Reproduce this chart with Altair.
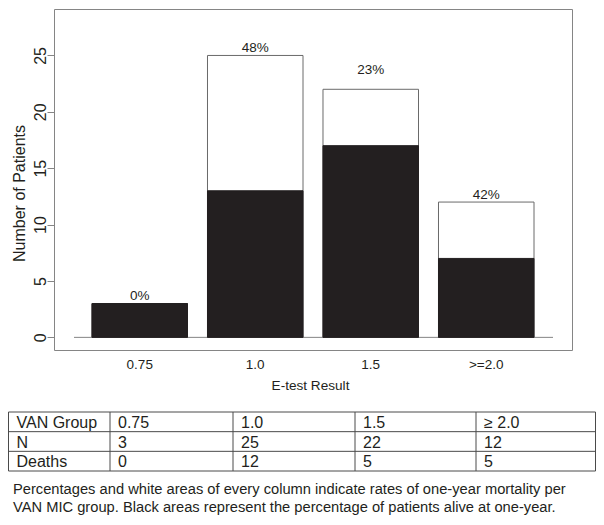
import altair as alt
import pandas as pd

# ---- data ----
groups = ["0.75", "1.0", "1.5", ">=2.0"]
n_patients = [3, 25, 22, 12]
deaths = [0, 12, 5, 5]
pct_labels = ["0%", "48%", "23%", "42%"]
label_y = [3, 25, 23.1, 12]
y_ticks = [0, 5, 10, 15, 20, 25]

table_header = ["VAN Group", "0.75", "1.0", "1.5", "\u2265 2.0"]
table_n = ["N", "3", "25", "22", "12"]
table_deaths = ["Deaths", "0", "12", "5", "5"]
caption_lines = [
    "Percentages and white areas of every column indicate rates of one-year mortality per",
    "VAN MIC group. Black areas represent the percentage of patients alive at one-year.",
]

FONT = "Liberation Sans"
TXT = "#231f20"
BLACK = "#231f20"
GREY = "#858585"

bars_df = pd.DataFrame({
    "group": groups,
    "n": n_patients,
    "deaths": deaths,
    "pct": pct_labels,
    "label_y": label_y,
})

xband = alt.Scale(domain=groups, paddingInner=0.173, paddingOuter=0.329)
yscale = alt.Scale(domain=[-1.12, 29.12], nice=False, zero=False)

x_axis = alt.Axis(
    title="E-test Result", ticks=False, tickSize=0, domain=False, grid=False,
    labelAngle=0, labelFontSize=13.5, labelPadding=18, labelBaseline="alphabetic",
    labelColor=TXT, titleFontSize=13.6, titleFontWeight="normal", titleColor=TXT,
    titleX=256, titleY=39.7, titleBaseline="alphabetic", titleAlign="center",
)
y_axis = alt.Axis(
    title="Number of Patients", values=y_ticks, grid=False, domain=False,
    tickColor=GREY, tickSize=7, labelAngle=270, labelAlign="center",
    labelBaseline="alphabetic", labelPadding=1.5, labelFontSize=16, labelColor=TXT,
    labelFlush=False, labelOverlap=False,
    titleFontSize=16, titleFontWeight="normal", titleColor=TXT, titleAngle=270,
    titleX=-30, titleY=184, titleBaseline="alphabetic", titleAlign="center",
)

base = alt.Chart(bars_df)

baseline = base.mark_rule(color=GREY, strokeWidth=1).encode(
    y=alt.datum(0, scale=yscale), x=alt.value(20), x2=alt.value(499)
).transform_filter("datum.group == '0.75'")

white_bars = base.mark_bar(fill="white", stroke="#6a6a6a", strokeWidth=1).encode(
    x=alt.X("group:N", scale=xband, axis=x_axis),
    y=alt.Y("n:Q", scale=yscale, axis=y_axis),
    y2=alt.datum(0),
)
black_bars = base.transform_calculate(alive="datum.n - datum.deaths").mark_bar(
    fill=BLACK, stroke=BLACK, strokeWidth=1
).encode(
    x=alt.X("group:N"),
    y=alt.Y("alive:Q"),
    y2=alt.datum(0),
)
pct_text = base.mark_text(
    dy=-3.3, baseline="alphabetic", fontSize=13.5, color=TXT, font=FONT
).encode(
    x=alt.X("group:N"),
    y=alt.Y("label_y:Q"),
    text="pct:N",
)

bar_group = alt.layer(baseline, white_bars, black_bars, pct_text)

# ---- table ----
rows = [table_header, table_n, table_deaths]
cells = []
for r, row in enumerate(rows):
    for c, val in enumerate(row):
        cells.append({"row": r, "col": c, "text": val})
cells_df = pd.DataFrame(cells)
ncol = len(table_header)
nrow = len(rows)
hlines_df = pd.DataFrame({"r": list(range(nrow + 1)), "c0": 0, "c1": ncol})
vlines_df = pd.DataFrame({"c": list(range(ncol + 1)), "r0": 0, "r1": nrow})

tx = alt.Scale(domain=[0, 1, 2, 3, 4, 5], range=[-45.5, 56, 179, 301, 422, 541.5])
ty = alt.Scale(domain=[0, 3], range=[403, 462])
LINE = "#4a4a4a"

hlines = alt.Chart(hlines_df).mark_rule(color=LINE, strokeWidth=1).encode(
    x=alt.X("c0:Q", scale=tx, axis=None), x2="c1:Q",
    y=alt.Y("r:Q", scale=ty, axis=None),
)
vlines = alt.Chart(vlines_df).mark_rule(color=LINE, strokeWidth=1).encode(
    x=alt.X("c:Q", scale=tx, axis=None),
    y=alt.Y("r0:Q", scale=ty, axis=None), y2="r1:Q",
)
cell_text = alt.Chart(cells_df).transform_calculate(ymid="datum.row + 0.5").mark_text(
    align="left", baseline="alphabetic", dx=8, dy=6, fontSize=16, color=TXT, font=FONT
).encode(
    x=alt.X("col:Q", scale=tx, axis=None),
    y=alt.Y("ymid:Q", scale=ty, axis=None),
    text="text:N",
)
table_group = alt.layer(hlines, vlines, cell_text)

# ---- caption ----
cap_df = pd.DataFrame({"line": list(range(len(caption_lines))), "col": 0, "text": caption_lines})
caption = alt.Chart(cap_df).mark_text(
    align="left", baseline="alphabetic", dx=4.5, fontSize=14.7, color=TXT, font=FONT
).encode(
    x=alt.X("col:Q", scale=alt.Scale(domain=[0, 5], range=[-45.5, 541.5]), axis=None),
    y=alt.Y("line:Q", scale=alt.Scale(domain=[0, 1], range=[484.5, 503]), axis=None),
    text="text:N",
)

chart = alt.layer(bar_group, table_group, caption).resolve_scale(
    x="independent", y="independent"
).properties(
    width=518, height=341,
    autosize=alt.AutoSizeParams(type="none"),
    padding={"left": 46, "top": 1, "right": 24, "bottom": 166},
    background="white",
).configure(font=FONT).configure_view(stroke=GREY, strokeWidth=1)

chart.save("out.html", embed_options={"renderer": "svg", "actions": False})
